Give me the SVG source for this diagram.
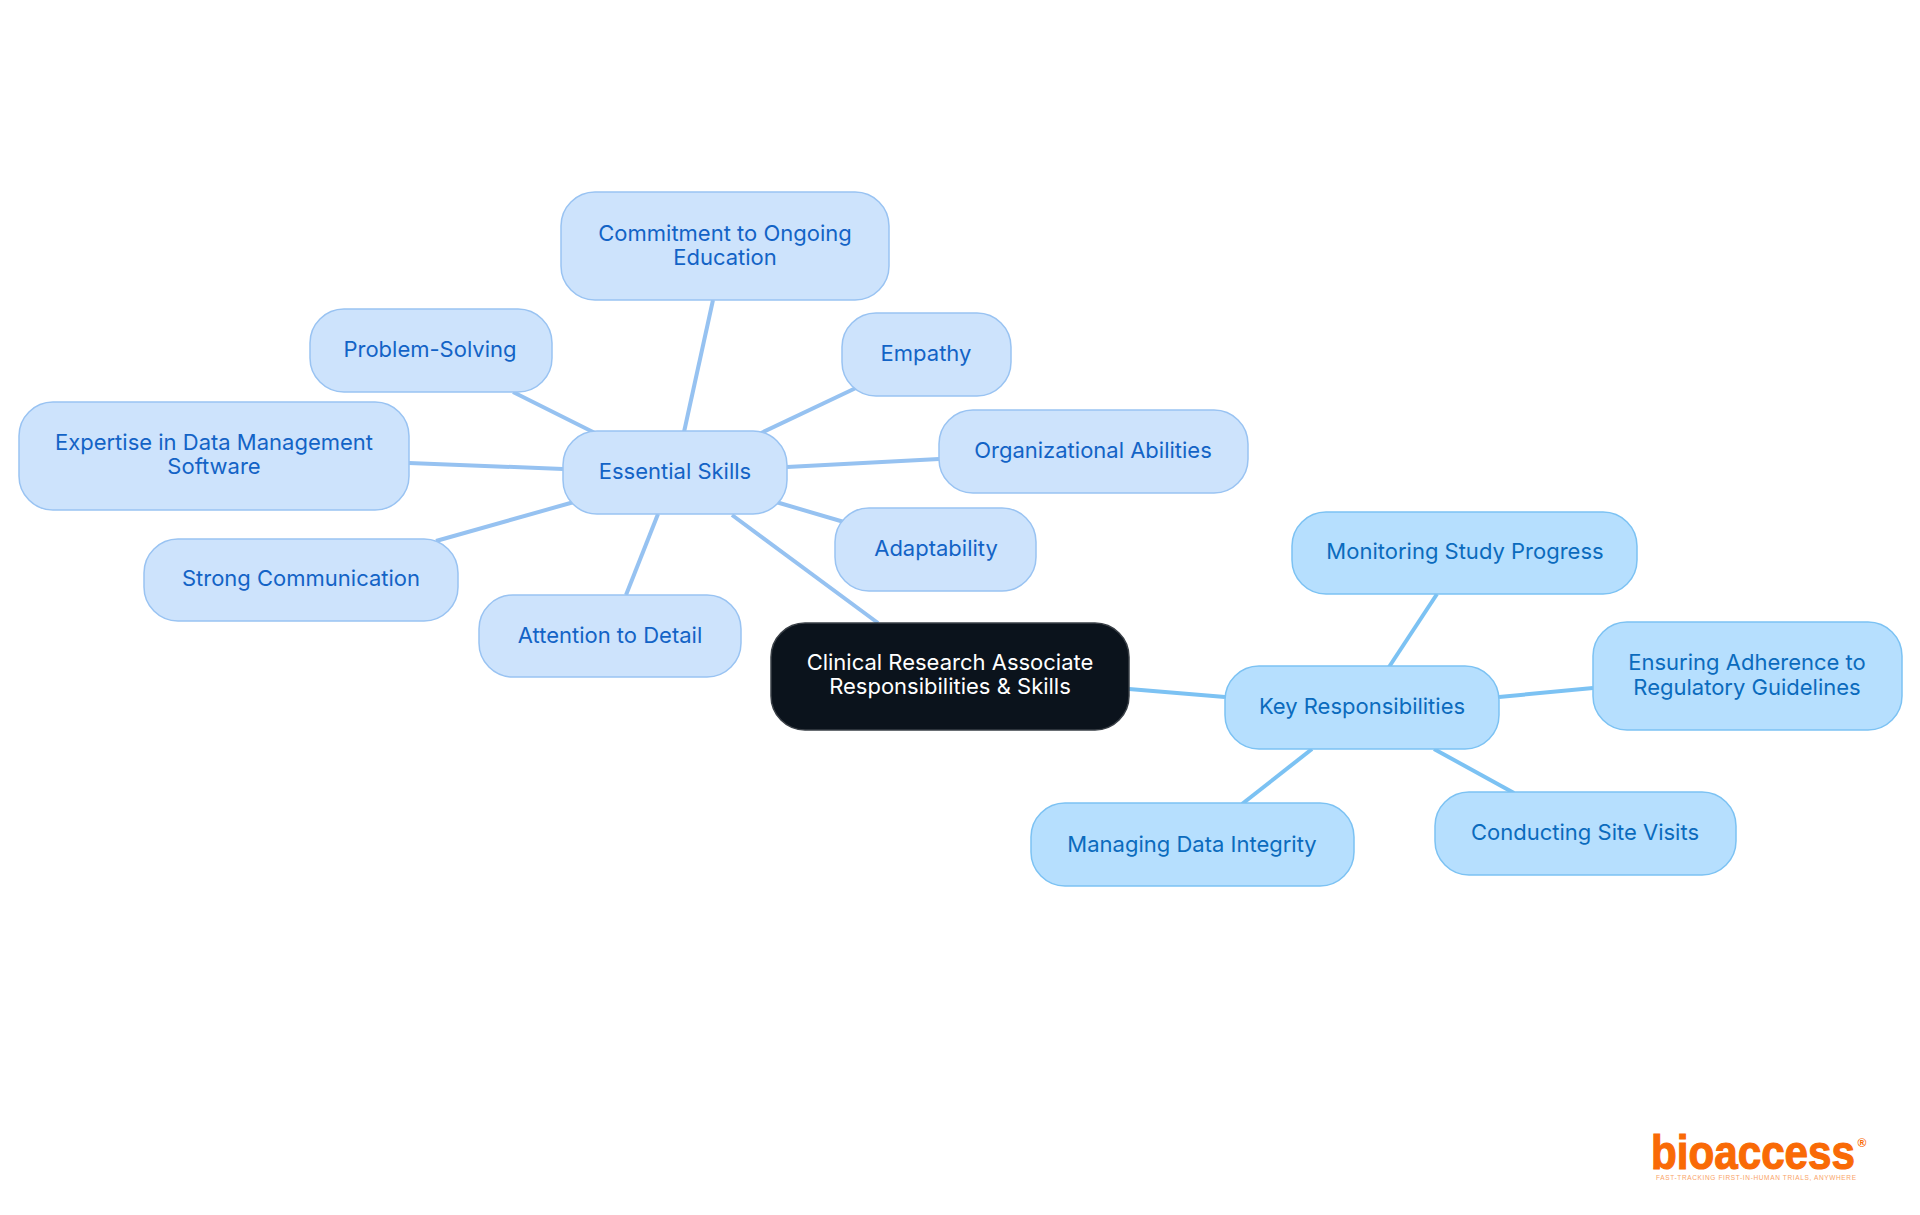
<svg xmlns="http://www.w3.org/2000/svg" width="1920" height="1215" viewBox="0 0 1920 1215">
<style>
text{font-family:Inter,"Liberation Sans",sans-serif;font-size:22px;text-anchor:middle}
rect{stroke-width:1.5}
.s rect{fill:#cde3fc;stroke:#99c3f2}
.s text{fill:#1363c6}
.k rect{fill:#b6dffe;stroke:#7cc2f3}
.k text{fill:#0b6bbd}
.c rect{fill:#0b131c;stroke:#3a4047}
.c text{fill:#fff}
#connectors line{stroke-width:4;fill:none}
.ls{stroke:#96c2f1}
.lk{stroke:#7cc2f3}
</style>
<rect width="1920" height="1215" fill="#fff"/>
<g id="connectors">
<line class="ls" x1="732" y1="515" x2="878" y2="623"/>
<line class="ls" x1="684" y1="432" x2="713" y2="300"/>
<line class="ls" x1="595" y1="433" x2="513" y2="392"/>
<line class="ls" x1="759" y1="434" x2="858" y2="387"/>
<line class="ls" x1="787" y1="467" x2="939" y2="459"/>
<line class="ls" x1="409" y1="463" x2="563" y2="469"/>
<line class="ls" x1="776" y1="502" x2="844" y2="522"/>
<line class="ls" x1="436" y1="541" x2="574" y2="502"/>
<line class="ls" x1="658" y1="514" x2="626" y2="595"/>
<line class="lk" x1="1129" y1="689" x2="1225" y2="697"/>
<line class="lk" x1="1389" y1="667" x2="1437" y2="594"/>
<line class="lk" x1="1499" y1="697" x2="1593" y2="688"/>
<line class="lk" x1="1312" y1="749" x2="1242" y2="804"/>
<line class="lk" x1="1434" y1="749" x2="1514" y2="793"/>
</g>
<g id="central" class="c"><rect x="771" y="623" width="358" height="107" rx="34"/><text x="950" y="670">Clinical Research Associate</text><text x="950" y="694">Responsibilities &amp; Skills</text></g>
<g id="essential" class="s"><rect x="563" y="431" width="224" height="83" rx="34"/><text x="675" y="479">Essential Skills</text></g>
<g id="commitment" class="s"><rect x="561" y="192" width="328" height="108" rx="34"/><text x="725" y="241">Commitment to Ongoing</text><text x="725" y="265">Education</text></g>
<g id="problem" class="s"><rect x="310" y="309" width="242" height="83" rx="34"/><text x="430" y="357">Problem-Solving</text></g>
<g id="empathy" class="s"><rect x="842" y="313" width="169" height="83" rx="34"/><text x="926" y="361">Empathy</text></g>
<g id="organizational" class="s"><rect x="939" y="410" width="309" height="83" rx="34"/><text x="1093" y="458">Organizational Abilities</text></g>
<g id="expertise" class="s"><rect x="19" y="402" width="390" height="108" rx="34"/><text x="214" y="450">Expertise in Data Management</text><text x="214" y="474">Software</text></g>
<g id="adaptability" class="s"><rect x="835" y="508" width="201" height="83" rx="34"/><text x="936" y="556">Adaptability</text></g>
<g id="strong" class="s"><rect x="144" y="539" width="314" height="82" rx="34"/><text x="301" y="586">Strong Communication</text></g>
<g id="attention" class="s"><rect x="479" y="595" width="262" height="82" rx="34"/><text x="610" y="643">Attention to Detail</text></g>
<g id="key" class="k"><rect x="1225" y="666" width="274" height="83" rx="34"/><text x="1362" y="714">Key Responsibilities</text></g>
<g id="monitoring" class="k"><rect x="1292" y="512" width="345" height="82" rx="34"/><text x="1465" y="559">Monitoring Study Progress</text></g>
<g id="ensuring" class="k"><rect x="1593" y="622" width="309" height="108" rx="34"/><text x="1747" y="670">Ensuring Adherence to</text><text x="1747" y="695">Regulatory Guidelines</text></g>
<g id="managing" class="k"><rect x="1031" y="803" width="323" height="83" rx="34"/><text x="1192" y="852">Managing Data Integrity</text></g>
<g id="conducting" class="k"><rect x="1435" y="792" width="301" height="83" rx="34"/><text x="1585" y="840">Conducting Site Visits</text></g>
<g id="logo">
<text x="1753" y="1169" style="font-family:'Liberation Sans',sans-serif;font-size:49px;font-weight:700;fill:#f96a06;stroke:#f96a06;stroke-width:1.2" textLength="204" lengthAdjust="spacingAndGlyphs">bioaccess</text>
<text x="1862" y="1147" style="font-family:'Liberation Sans',sans-serif;font-size:12px;font-weight:700;fill:#f96a06">®</text>
<text x="1756" y="1180" style="font-family:'Liberation Sans',sans-serif;font-size:6.5px;fill:#f9a468" textLength="200">FAST-TRACKING FIRST-IN-HUMAN TRIALS, ANYWHERE</text>
</g>
</svg>
